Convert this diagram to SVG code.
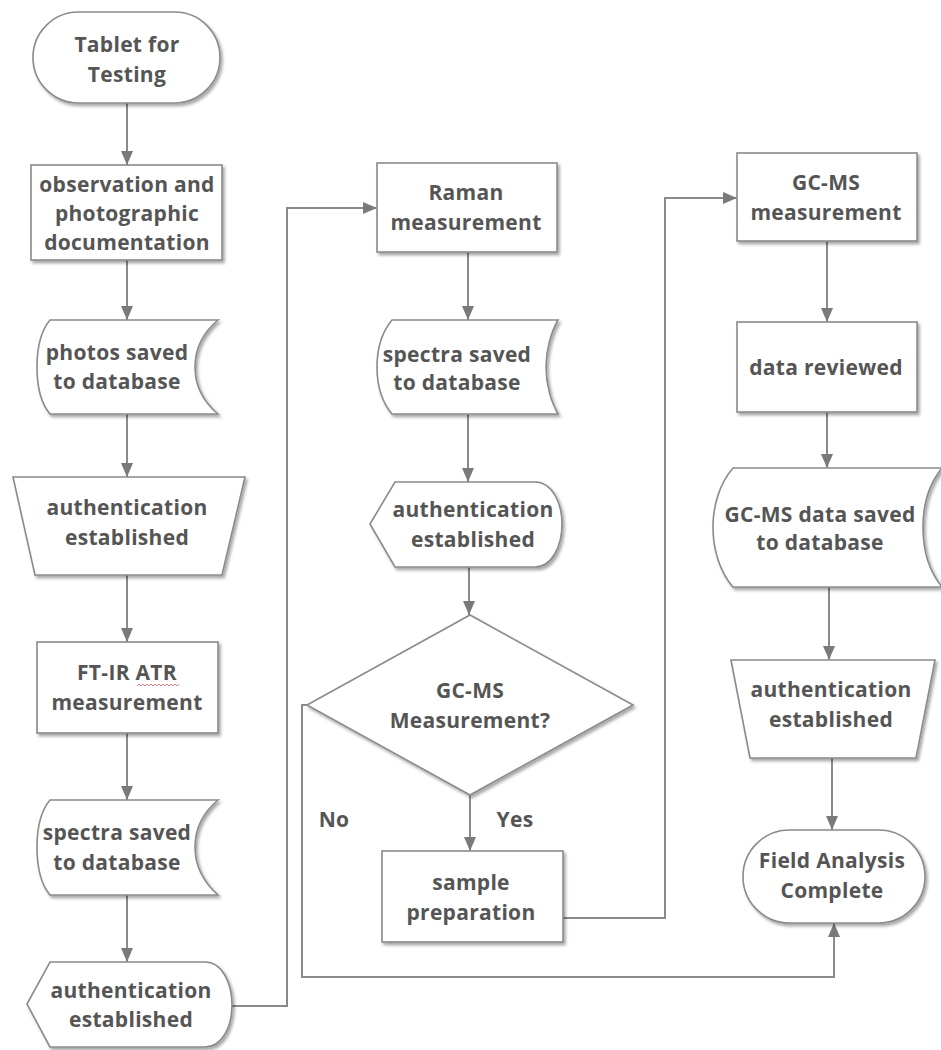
<svg xmlns="http://www.w3.org/2000/svg" width="941" height="1050" viewBox="0 0 941 1050">
<style>
.shape{fill:#ffffff;stroke:#8a8a8a;stroke-width:1.6;filter:url(#sh)}
.lbl{font-family:"Open Sans","Liberation Sans",sans-serif;font-weight:bold;font-size:21px;letter-spacing:0.3px;fill:#555555;text-anchor:middle}
.conn{fill:none;stroke:#8a8a8a;stroke-width:2}
</style>
<defs>
<filter id="sh" x="-10%" y="-10%" width="125%" height="130%">
<feDropShadow dx="2" dy="2.5" stdDeviation="1.5" flood-color="#000000" flood-opacity="0.35"/>
</filter>
<marker id="ah" markerUnits="userSpaceOnUse" markerWidth="14" markerHeight="14" refX="14" refY="7" orient="auto">
<path d="M0,1 L14,7 L0,13 Z" fill="#7a7a7a"/>
</marker>
</defs>
<rect width="941" height="1050" fill="#ffffff"/>
<g id="connectors">
<path class="conn" d="M127,103 L127,165" marker-end="url(#ah)"/>
<path class="conn" d="M127,260 L127,320" marker-end="url(#ah)"/>
<path class="conn" d="M127,414 L127,477" marker-end="url(#ah)"/>
<path class="conn" d="M127,575 L127,642" marker-end="url(#ah)"/>
<path class="conn" d="M127,733 L127,800" marker-end="url(#ah)"/>
<path class="conn" d="M127,895 L127,962" marker-end="url(#ah)"/>
<path class="conn" d="M232,1006 L287,1006 L287,208 L377,208" marker-end="url(#ah)"/>
<path class="conn" d="M468,252 L468,320" marker-end="url(#ah)"/>
<path class="conn" d="M468,414 L468,482" marker-end="url(#ah)"/>
<path class="conn" d="M469,567 L469,615" marker-end="url(#ah)"/>
<path class="conn" d="M470,795 L470,851" marker-end="url(#ah)"/>
<path class="conn" d="M563,918 L665,918 L665,198 L737,198" marker-end="url(#ah)"/>
<path class="conn" d="M307,705 L302,705 L302,977 L834,977 L834,923" marker-end="url(#ah)"/>
<path class="conn" d="M827,241 L827,322" marker-end="url(#ah)"/>
<path class="conn" d="M827,412 L827,468" marker-end="url(#ah)"/>
<path class="conn" d="M829,587 L829,660" marker-end="url(#ah)"/>
<path class="conn" d="M832,758 L832,830" marker-end="url(#ah)"/>
<text class="lbl" x="334" y="827">No</text>
<text class="lbl" x="515" y="827">Yes</text>
</g>
<g id="n1">
<rect class="shape" x="33" y="12" width="187" height="91" rx="45.5"/>
<text class="lbl" x="127" y="52">Tablet for</text>
<text class="lbl" x="127" y="82">Testing</text>
</g>
<g id="n2">
<rect class="shape" x="31" y="165" width="191" height="95"/>
<text class="lbl" x="127" y="192">observation and</text>
<text class="lbl" x="127" y="221">photographic</text>
<text class="lbl" x="127" y="250">documentation</text>
</g>
<g id="n3">
<path class="shape" d="M50,320 L218,320 C200,335 195,352 195,367 C195,382 200,399 218,414 L50,414 C40,402 37,385 37,367 C37,349 40,332 50,320 Z"/>
<text class="lbl" x="117" y="360">photos saved</text>
<text class="lbl" x="117" y="389">to database</text>
</g>
<g id="n4">
<path class="shape" d="M13,477 L245,477 L222,575 L35,575 Z"/>
<text class="lbl" x="127" y="515">authentication</text>
<text class="lbl" x="127" y="545">established</text>
</g>
<g id="n5">
<rect class="shape" x="37" y="642" width="181" height="91"/>
<text class="lbl" x="127" y="680">FT-IR ATR</text>
<text class="lbl" x="127" y="710">measurement</text>
<path d="M137,686 l2,-2 l2,2 l2,-2 l2,2 l2,-2 l2,2 l2,-2 l2,2 l2,-2 l2,2 l2,-2 l2,2 l2,-2 l2,2 l2,-2 l2,2 l2,-2 l2,2 l2,-2 l2,2 l2,-2" fill="none" stroke="#e06060" stroke-width="0.8"/>
</g>
<g id="n6">
<path class="shape" d="M50,800 L218,800 C200,815 195,832 195,847 C195,862 200,879 218,895 L50,895 C40,883 37,865 37,847 C37,829 40,812 50,800 Z"/>
<text class="lbl" x="117" y="840">spectra saved</text>
<text class="lbl" x="117" y="870">to database</text>
</g>
<g id="n7">
<path class="shape" d="M50,962 L205,962 C222,962 232,983 232,1005 C232,1027 222,1047 205,1047 L50,1047 L27,1004 Z"/>
<text class="lbl" x="131" y="998">authentication</text>
<text class="lbl" x="131" y="1027">established</text>
</g>
<g id="n8">
<rect class="shape" x="377" y="163" width="180" height="89"/>
<text class="lbl" x="466" y="200">Raman</text>
<text class="lbl" x="466" y="230">measurement</text>
</g>
<g id="n9">
<path class="shape" d="M392,320 L558,320 C551,332 546,350 546,367 C546,384 551,402 558,414 L392,414 C382,402 377,385 377,367 C377,349 382,332 392,320 Z"/>
<text class="lbl" x="457" y="362">spectra saved</text>
<text class="lbl" x="457" y="390">to database</text>
</g>
<g id="n10">
<path class="shape" d="M395,482 L535,482 C552,482 562,503 562,524 C562,546 552,567 535,567 L395,567 L370,524 Z"/>
<text class="lbl" x="473" y="517">authentication</text>
<text class="lbl" x="473" y="547">established</text>
</g>
<g id="n11">
<path class="shape" d="M470,615 L633,705 L470,795 L307,705 Z"/>
<text class="lbl" x="470" y="698">GC-MS</text>
<text class="lbl" x="470" y="728">Measurement?</text>
</g>
<g id="n12">
<rect class="shape" x="382" y="851" width="181" height="91"/>
<text class="lbl" x="471" y="890">sample</text>
<text class="lbl" x="471" y="920">preparation</text>
</g>
<g id="n13">
<rect class="shape" x="737" y="153" width="180" height="88"/>
<text class="lbl" x="826" y="190">GC-MS</text>
<text class="lbl" x="826" y="220">measurement</text>
</g>
<g id="n14">
<rect class="shape" x="737" y="322" width="180" height="90"/>
<text class="lbl" x="826" y="375">data reviewed</text>
</g>
<g id="n15">
<path class="shape" d="M733,468 L942,468 C928,485 923,505 923,527 C923,549 928,570 942,587 L733,587 C720,572 713,550 713,527 C713,505 720,483 733,468 Z"/>
<text class="lbl" x="820" y="522">GC-MS data saved</text>
<text class="lbl" x="820" y="550">to database</text>
</g>
<g id="n16">
<path class="shape" d="M731,660 L935,660 L916,758 L750,758 Z"/>
<text class="lbl" x="831" y="697">authentication</text>
<text class="lbl" x="831" y="727">established</text>
</g>
<g id="n17">
<rect class="shape" x="743" y="830" width="182" height="93" rx="46.5"/>
<text class="lbl" x="832" y="868">Field Analysis</text>
<text class="lbl" x="832" y="898">Complete</text>
</g>
</svg>
